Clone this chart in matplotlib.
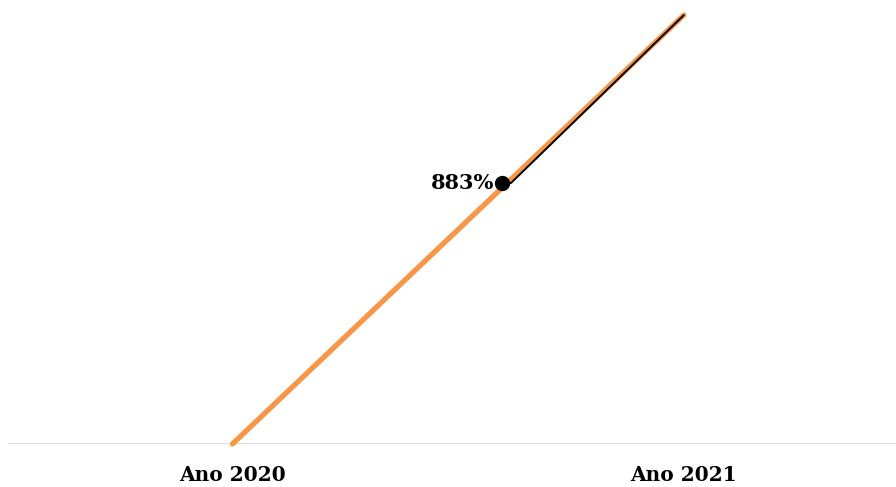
import matplotlib.pyplot as plt

anos = ["Ano 2020", "Ano 2021"]
variacao = [0, 883]
rotulo = "883%"

fig = plt.figure(figsize=(8.96, 4.87), dpi=100)
ax = fig.add_axes([0.009, 0.0883, 0.991, 0.969 - 0.0883])

x = list(range(len(anos)))
ax.plot(x, variacao, color="#F79646", linewidth=3.8, solid_capstyle="round",
        clip_on=False, zorder=2)

# rótulo do último ponto, deslocado para o meio da linha com linha de chamada
xr, yr = 0.597, variacao[-1] * (444 - 183) / 429
ax.plot([xr, xr + 0.02, x[-1]], [yr, yr, variacao[-1]], color="black",
        linewidth=1.4, clip_on=False, zorder=3, solid_capstyle="round")
ax.plot([xr], [yr], "o", color="black", markersize=10, zorder=4)
ax.text(xr - 0.017, yr, rotulo, ha="right", va="center", fontsize=15,
        fontweight="bold", family="DejaVu Serif", zorder=5)

ax.axhline(0, color="#D9D9D9", linewidth=2.0, zorder=1)
ax.set_xlim(-0.497, 1.47)
ax.set_ylim(0, variacao[-1])
ax.set_xticks(x)
ax.set_xticklabels(anos, fontsize=14.5, fontweight="bold", family="DejaVu Serif")
ax.tick_params(axis="x", length=0, pad=15)
ax.set_yticks([])
for s in ax.spines.values():
    s.set_visible(False)

fig.savefig("out.png", dpi=100)
